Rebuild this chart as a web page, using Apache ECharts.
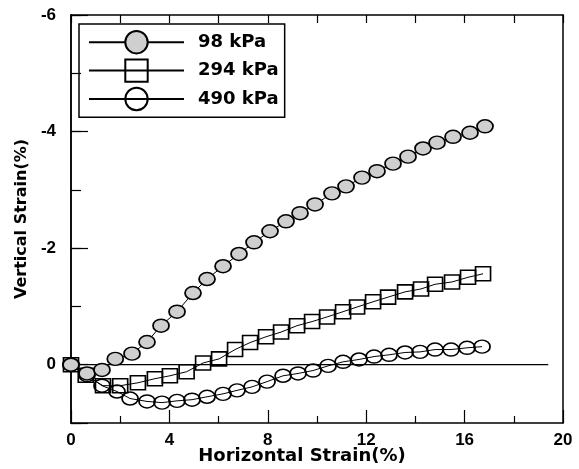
<!DOCTYPE html>
<html><head><meta charset="utf-8">
<script src="https://cdn.jsdelivr.net/npm/echarts@6/dist/echarts.min.js"></script>
<style>html,body{margin:0;padding:0;background:#fff}#c{width:579px;height:469px}</style>
</head><body><div id="c"></div>
<script>
const seriesNames = ['98 kPa', '294 kPa', '490 kPa'];
const data98 = [[0,0],[0.65,0.15],[1.26,0.09],[1.8,-0.1],[2.48,-0.19],[3.09,-0.39],[3.66,-0.67],[4.31,-0.91],[4.96,-1.23],[5.53,-1.47],[6.18,-1.69],[6.83,-1.9],[7.44,-2.1],[8.09,-2.29],[8.74,-2.46],[9.31,-2.6],[9.92,-2.75],[10.61,-2.94],[11.18,-3.06],[11.83,-3.21],[12.44,-3.32],[13.09,-3.45],[13.7,-3.57],[14.31,-3.71],[14.88,-3.81],[15.53,-3.91],[16.22,-3.98],[16.83,-4.09]];
const data294 = [[0,0],[0.6,0.18],[1.3,0.36],[2.0,0.36],[2.72,0.31],[3.41,0.24],[4.02,0.19],[4.7,0.12],[5.37,-0.03],[6.02,-0.1],[6.67,-0.26],[7.28,-0.38],[7.93,-0.48],[8.54,-0.56],[9.19,-0.67],[9.8,-0.74],[10.41,-0.82],[11.06,-0.91],[11.63,-0.99],[12.28,-1.08],[12.89,-1.16],[13.58,-1.25],[14.23,-1.3],[14.8,-1.38],[15.49,-1.42],[16.14,-1.5],[16.75,-1.56]];
const data490 = [[0,0],[0.65,0.18],[1.26,0.36],[1.87,0.46],[2.4,0.58],[3.09,0.63],[3.7,0.65],[4.31,0.62],[4.92,0.6],[5.53,0.55],[6.18,0.5],[6.75,0.44],[7.36,0.38],[7.97,0.29],[8.62,0.19],[9.23,0.15],[9.84,0.1],[10.45,0.02],[11.06,-0.05],[11.71,-0.09],[12.32,-0.14],[12.93,-0.17],[13.58,-0.21],[14.19,-0.22],[14.8,-0.26],[15.45,-0.26],[16.1,-0.29],[16.71,-0.31]];
const zeroLine = [[0,0],[19.4,0]];
const xRange = [0, 20];
const yRange = [-6, 1];
const xTitle = 'Horizontal Strain(%)';
const yTitle = 'Vertical Strain(%)';

const chart = echarts.init(document.getElementById('c'), null, {renderer: 'canvas'});
const tickFont = {fontFamily: 'Liberation Sans', fontWeight: 'bold', fontSize: 17, color: '#000'};
const nameFont = {fontFamily: 'DejaVu Sans', fontWeight: 'bold', color: '#000'};
const axisLine = {show: true, onZero: false, lineStyle: {color: '#000', width: 1.5}};

chart.setOption({
  animation: false,
  backgroundColor: '#fff',
  grid: {left: 71, right: 16, top: 15, bottom: 46, containLabel: false, outerBoundsMode: 'none'},
  legend: {
    left: 79, top: 24, orient: 'vertical',
    data: seriesNames,
    itemWidth: 95, itemHeight: 28, itemGap: 4,
    padding: [6, 6, 6, 9],
    borderColor: '#000', borderWidth: 1.5,
    textStyle: {fontFamily: 'DejaVu Sans', fontWeight: 'bold', fontSize: 18, color: '#000', padding: [0, 0, 0, 9]}
  },
  xAxis: [
    {type: 'value', position: 'bottom', min: xRange[0], max: xRange[1], interval: 4,
     name: xTitle, nameLocation: 'middle', nameGap: 24, nameMoveOverlap: false,
     nameTextStyle: Object.assign({fontSize: 18, padding: [0, 30, 0, 0]}, nameFont),
     axisLine: axisLine, splitLine: {show: false},
     axisTick: {show: true, inside: true, length: 13, lineStyle: {color: '#000', width: 1.2}},
     minorTick: {show: true, splitNumber: 2, length: 7, lineStyle: {color: '#000', width: 1.2}},
     axisLabel: Object.assign({margin: 9}, tickFont)},
    {type: 'value', position: 'top', min: xRange[0], max: xRange[1], interval: 2,
     axisLine: axisLine, splitLine: {show: false},
     axisTick: {show: true, inside: true, length: 8, lineStyle: {color: '#000', width: 1.2}},
     axisLabel: {show: false}}
  ],
  yAxis: [
    {type: 'value', position: 'left', inverse: true, min: yRange[0], max: yRange[1], interval: 2,
     name: yTitle, nameLocation: 'middle', nameGap: 41, nameRotate: 90, nameTextStyle: Object.assign({fontSize: 16}, nameFont),
     axisLine: axisLine, splitLine: {show: false},
     axisTick: {show: true, inside: true, length: 17, lineStyle: {color: '#000', width: 1.2}},
     axisLabel: Object.assign({margin: 15, formatter: v => (v === yRange[1] ? '' : String(v))}, tickFont)},
    {type: 'value', position: 'left', inverse: true, min: yRange[0], max: yRange[1], interval: 1,
     axisLine: axisLine, splitLine: {show: false},
     axisTick: {show: true, inside: true, length: 10, lineStyle: {color: '#000', width: 1.2}},
     axisLabel: {show: false}},
    {type: 'value', position: 'right', inverse: true, min: yRange[0], max: yRange[1], interval: 2,
     axisLine: axisLine, splitLine: {show: false},
     axisTick: {show: false}, axisLabel: {show: false}}
  ],
  series: [
    {name: 'zero', type: 'line', data: zeroLine, symbol: 'none', silent: true, z: 1,
     lineStyle: {color: '#000', width: 1.2}},
    {name: seriesNames[2], type: 'line', data: data490, symbol: 'circle', symbolSize: [16, 13], z: 2,
     lineStyle: {color: '#000', width: 1},
     itemStyle: {color: 'rgba(255,255,255,0)', borderColor: '#000', borderWidth: 1.6}},
    {name: seriesNames[1], type: 'line', data: data294, symbol: 'rect', symbolSize: [15, 14], z: 3,
     lineStyle: {color: '#000', width: 1},
     itemStyle: {color: 'rgba(255,255,255,0)', borderColor: '#000', borderWidth: 1.6}},
    {name: seriesNames[0], type: 'line', data: data98, symbol: 'circle', symbolSize: [16, 13], z: 4,
     lineStyle: {color: '#000', width: 1},
     itemStyle: {color: '#cfcfcf', borderColor: '#000', borderWidth: 1.6}}
  ]
});
</script>
</body></html>
